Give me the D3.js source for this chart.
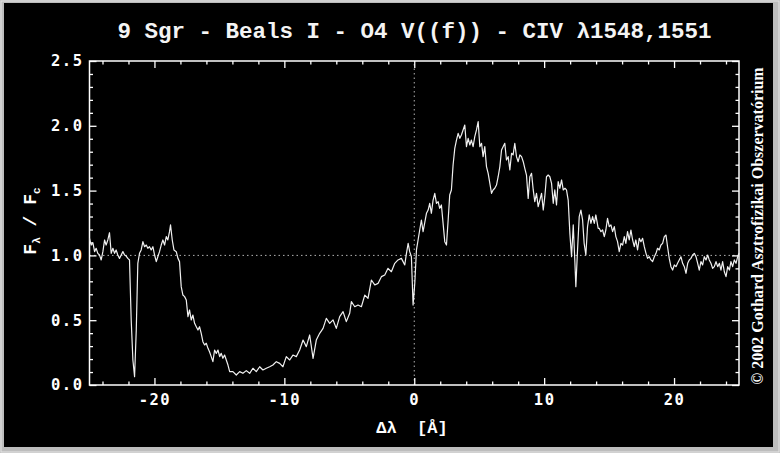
<!DOCTYPE html>
<html><head><meta charset="utf-8">
<script src="https://cdn.jsdelivr.net/npm/d3@7"></script>
<style>html,body{margin:0;padding:0;background:#c0c0c0;overflow:hidden}text{white-space:pre}</style>
</head><body>
<svg id="c" width="780" height="453"></svg>
<script>
const titleText = "9 Sgr - Beals I - O4 V((f)) - CIV \u03bb1548,1551";
const xLabel = "\u0394\u03bb  [\u00c5]";
const copyright = "\u00a9 2002 Gothard Asztrofizikai Obszervat\u00f3rium";
const xDomain = [-25, 25];
const yDomain = [0, 2.5];
const xMajorTicks = [-20, -10, 0, 10, 20];
const xMinorTicks = [-24,-22,-18,-16,-14,-12,-8,-6,-4,-2,2,4,6,8,12,14,16,18,22,24];
const yMajorTicks = [0, 0.5, 1.0, 1.5, 2.0, 2.5];
const yMinorTicks = [0.1,0.2,0.3,0.4,0.6,0.7,0.8,0.9,1.1,1.2,1.3,1.4,1.6,1.7,1.8,1.9,2.1,2.2,2.3,2.4];
const continuumLevel = 1.0;
const restOffset = 0;

// [delta lambda (A), F_lambda / F_c]
const spectrum = [
[-25.00,1.132],[-24.87,1.080],[-24.74,1.098],[-24.61,1.029],[-24.49,1.055],[-24.36,1.016],[-24.23,1.003],[-24.10,0.965],[-23.97,1.029],[-23.84,1.119],
[-23.72,1.080],[-23.59,1.119],[-23.46,1.175],[-23.33,1.016],[-23.20,1.055],[-23.07,1.016],[-22.95,1.042],[-22.82,1.003],[-22.69,0.977],[-22.56,1.003],
[-22.43,1.029],[-22.30,1.003],[-22.18,0.995],[-22.05,0.977],[-21.92,0.965],[-21.79,0.502],[-21.66,0.193],[-21.53,0.064],[-21.40,0.424],[-21.28,0.939],
[-21.15,1.016],[-21.02,1.042],[-20.89,1.106],[-20.76,1.067],[-20.63,1.080],[-20.51,1.055],[-20.38,1.067],[-20.25,1.042],[-20.12,1.067],[-19.99,1.003],
[-19.86,0.952],[-19.74,0.990],[-19.61,1.029],[-19.48,1.080],[-19.35,1.119],[-19.22,1.080],[-19.09,1.145],[-18.97,1.119],[-18.84,1.183],[-18.76,1.235],
[-18.63,1.119],[-18.50,1.042],[-18.32,1.029],[-18.19,0.977],[-18.07,0.952],[-17.94,0.759],[-17.81,0.694],[-17.68,0.682],[-17.55,0.656],[-17.42,0.527],
[-17.30,0.579],[-17.17,0.502],[-17.04,0.540],[-16.91,0.476],[-16.78,0.450],[-16.65,0.424],[-16.53,0.450],[-16.40,0.399],[-16.27,0.334],[-16.14,0.309],
[-16.01,0.322],[-15.88,0.283],[-15.76,0.257],
[-15.63,0.219],[-15.50,0.180],[-15.37,0.270],[-15.24,0.244],[-15.11,0.270],[-14.98,0.219],[-14.86,0.244],[-14.73,0.206],[-14.60,0.231],[-14.47,0.193],
[-14.34,0.154],[-14.21,0.103],[-13.96,0.103],[-13.70,0.077],[-13.44,0.103],[-13.19,0.090],[-12.93,0.111],[-12.67,0.090],[-12.42,0.129],[-12.16,0.103],
[-11.90,0.141],[-11.65,0.116],[-11.39,0.129],[-11.13,0.141],[-10.88,0.154],[-10.62,0.180],[-10.36,0.167],[-10.11,0.141],[-9.85,0.219],
[-9.59,0.193],[-9.34,0.231],[-9.08,0.219],[-8.82,0.270],[-8.56,0.347],[-8.31,0.296],[-8.05,0.386],[-7.79,0.206],[-7.54,0.347],[-7.28,0.399],
[-7.02,0.437],[-6.77,0.514],[-6.51,0.476],[-6.25,0.502],[-6.00,0.437],[-5.74,0.527],[-5.48,0.566],[-5.23,0.489],[-4.97,0.553],[-4.84,0.643],
[-4.58,0.604],[-4.33,0.617],[-4.07,0.604],[-3.81,0.694],[-3.56,0.669],[-3.30,0.810],[-3.04,0.772],[-2.79,0.784],[-2.53,0.836],[-2.27,0.849],
[-2.02,0.900],[-1.76,0.874],[-1.50,0.939],[-1.25,0.965],[-0.99,0.977],[-0.86,0.952],[-0.73,0.926],[-0.60,1.016],[-0.47,1.093],[-0.35,1.029],
[-0.22,0.990],[-0.09,0.617],[0.04,0.784],[0.17,1.042],[0.42,1.196],[0.55,1.273],[0.68,1.183],[0.94,1.325],
[1.07,1.350],[1.19,1.402],[1.32,1.325],[1.45,1.427],[1.58,1.479],[1.71,1.402],[1.84,1.415],[1.96,1.363],[2.09,1.389],[2.22,1.247],
[2.35,1.106],[2.48,1.080],[2.61,1.273],[2.73,1.466],[2.86,1.505],[2.99,1.698],[3.12,1.826],[3.25,1.890],[3.38,1.942],[3.51,1.903],
[3.63,1.929],[3.76,1.968],[3.89,2.006],[4.02,1.839],[4.15,1.903],[4.28,1.852],[4.40,1.890],[4.53,1.839],[4.66,1.916],[4.79,1.968],
[4.92,2.032],[5.05,1.839],[5.18,1.865],[5.30,1.762],[5.43,1.839],[5.56,1.685],[5.69,1.633],[5.82,1.556],[5.95,1.479],[6.07,1.505],
[6.20,1.518],[6.33,1.543],[6.46,1.607],[6.59,1.685],[6.72,1.813],[6.84,1.839],[6.97,1.865],[7.10,1.736],[7.23,1.762],[7.36,1.659],
[7.49,1.788],[7.61,1.775],[7.74,1.865],[7.87,1.762],[8.00,1.723],[8.13,1.775],[8.26,1.762],[8.39,1.723],[8.51,1.672],[8.64,1.620],
[8.77,1.440],[8.90,1.607],[9.03,1.633],[9.16,1.505],[9.28,1.415],[9.41,1.479],[9.54,1.376],[9.67,1.427],[9.80,1.479],[9.93,1.350],
[10.05,1.453],[10.18,1.607],[10.31,1.620],[10.44,1.607],[10.57,1.556],[10.70,1.402],[10.82,1.505],[10.95,1.389],[11.08,1.569],[11.21,1.518],
[11.34,1.582],[11.47,1.505],[11.60,1.518],[11.72,1.505],[11.85,1.427],[11.98,1.170],[12.11,0.990],[12.24,1.235],[12.37,0.939],[12.44,0.759],
[12.57,1.042],[12.70,1.299],[12.83,1.350],[12.96,1.273],[13.08,1.093],[13.21,1.003],[13.34,1.222],[13.47,1.312],[13.60,1.247],[13.73,1.299],
[13.86,1.247],[13.98,1.312],[14.16,1.209],
[14.24,1.209],[14.37,1.183],[14.50,1.196],[14.63,1.145],[14.75,1.196],[14.88,1.286],[15.01,1.222],[15.14,1.235],[15.27,1.183],[15.40,1.222],
[15.52,1.145],[15.65,1.106],[15.78,1.029],[15.91,1.093],[16.04,1.080],[16.17,1.145],[16.29,1.093],[16.42,1.183],[16.55,1.119],[16.68,1.196],
[16.81,1.119],[16.94,1.067],[17.06,1.119],[17.19,1.042],[17.32,1.132],[17.45,1.106],[17.58,1.132],[17.71,1.067],[17.84,1.016],[17.96,0.977],
[18.09,0.990],[18.22,0.965],[18.35,0.952],[18.48,0.990],[18.61,1.016],[18.73,1.055],[18.86,1.042],[18.99,1.080],[19.12,1.093],[19.25,1.145],
[19.38,1.157],[19.50,1.067],[19.63,0.977],[19.76,0.913],[19.89,0.887],[20.02,0.926],[20.15,0.913],[20.27,0.939],[20.40,0.965],[20.53,0.990],
[20.66,0.939],[20.79,0.913],[20.92,0.862],[21.05,0.939],[21.17,0.965],[21.30,0.977],[21.43,1.003],[21.56,1.016],[21.69,0.990],[21.82,0.939],
[21.94,0.887],[22.07,0.952],[22.20,0.926],[22.33,0.990],[22.46,0.965],[22.59,1.003],[22.71,0.965],[22.84,0.939],[22.97,0.900],[23.10,0.913],
[23.23,0.952],[23.36,0.913],[23.49,0.939],[23.61,0.887],[23.74,0.952],[23.87,0.874],[24.00,0.836],[24.13,0.913],[24.26,0.887],[24.38,0.952],
[24.51,0.913],[24.64,0.965],[24.77,0.939],[24.90,0.990],[25.00,1.016]
];

const W = 780, H = 453;
const svg = d3.select("#c");
const plot = {left: 89.5, right: 739, top: 61, bottom: 385};
const x = d3.scaleLinear().domain(xDomain).range([plot.left, plot.right]);
const y = d3.scaleLinear().domain(yDomain).range([plot.bottom, plot.top]);

// window frame
svg.append("rect").attr("x",0).attr("y",0).attr("width",W).attr("height",H).attr("fill","#bdbdbd");
svg.append("rect").attr("x",1).attr("y",1).attr("width",W-2).attr("height",H-2).attr("fill","none").attr("stroke","#e6e6e6").attr("stroke-width",1);
svg.append("rect").attr("x",4).attr("y",3).attr("width",769).attr("height",444).attr("fill","#000");

// title
svg.append("text").attr("x",414.5).attr("y",38).attr("text-anchor","middle")
  .attr("font-family","'Liberation Mono', 'Courier New', monospace").attr("font-weight","bold")
  .attr("font-size",22.5).attr("fill","#f4f4f4").text(titleText);

// dotted reference lines
svg.append("line").attr("x1",x(xDomain[0])).attr("x2",x(xDomain[1]))
  .attr("y1",y(continuumLevel)).attr("y2",y(continuumLevel))
  .attr("stroke","#b0b0b0").attr("stroke-width",1).attr("stroke-dasharray","1.5,3");
svg.append("line").attr("x1",x(restOffset)).attr("x2",x(restOffset))
  .attr("y1",y(yDomain[0])).attr("y2",y(yDomain[1]))
  .attr("stroke","#b0b0b0").attr("stroke-width",1).attr("stroke-dasharray","1.5,3");

// axes (ticks inward on all four sides)
const tickFont = "'DejaVu Sans Mono', monospace";
function styleAxis(g){
  g.select(".domain").remove();
  g.selectAll(".tick line").attr("stroke","#fff").attr("stroke-width",1.3);
  g.selectAll(".tick text").attr("fill","#fff").attr("font-family",tickFont)
    .attr("font-size",15.5).attr("font-weight","bold").attr("letter-spacing","1.5px");
}
const fmtY = d3.format(".1f");
svg.append("g").attr("transform",`translate(0,${plot.bottom})`)
  .call(d3.axisBottom(x).tickValues(xMajorTicks).tickSize(-7).tickPadding(9).tickFormat(d=>d3.format("d")(d).replace("\u2212","-")))
  .call(styleAxis);
svg.append("g").attr("transform",`translate(0,${plot.bottom})`)
  .call(d3.axisBottom(x).tickValues(xMinorTicks).tickSize(-3.5).tickFormat(""))
  .call(styleAxis);
svg.append("g").attr("transform",`translate(0,${plot.top})`)
  .call(d3.axisTop(x).tickValues(xMajorTicks).tickSize(-7).tickFormat(""))
  .call(styleAxis);
svg.append("g").attr("transform",`translate(0,${plot.top})`)
  .call(d3.axisTop(x).tickValues(xMinorTicks).tickSize(-3.5).tickFormat(""))
  .call(styleAxis);
svg.append("g").attr("transform",`translate(${plot.left},0)`)
  .call(d3.axisLeft(y).tickValues(yMajorTicks).tickSize(-7).tickPadding(6).tickFormat(fmtY))
  .call(styleAxis);
svg.append("g").attr("transform",`translate(${plot.left},0)`)
  .call(d3.axisLeft(y).tickValues(yMinorTicks).tickSize(-3.5).tickFormat(""))
  .call(styleAxis);
svg.append("g").attr("transform",`translate(${plot.right},0)`)
  .call(d3.axisRight(y).tickValues(yMajorTicks).tickSize(-7).tickFormat(""))
  .call(styleAxis);
svg.append("g").attr("transform",`translate(${plot.right},0)`)
  .call(d3.axisRight(y).tickValues(yMinorTicks).tickSize(-3.5).tickFormat(""))
  .call(styleAxis);

// frame
svg.append("rect").attr("x",plot.left).attr("y",plot.top)
  .attr("width",plot.right-plot.left).attr("height",plot.bottom-plot.top)
  .attr("fill","none").attr("stroke","#fff").attr("stroke-width",1.5);

// spectrum
const line = d3.line().x(d=>x(d[0])).y(d=>y(d[1]));
svg.append("path").datum(spectrum).attr("d",line)
  .attr("fill","none").attr("stroke","#f0f0f0").attr("stroke-width",1.2).attr("stroke-linejoin","round");

// x axis label
svg.append("text").attr("x",412).attr("y",433).attr("text-anchor","middle")
  .attr("font-family","'Liberation Mono', 'Courier New', monospace").attr("font-weight","bold")
  .attr("font-size",17).attr("fill","#fff").text(xLabel);

// y axis label
const yl = svg.append("text").attr("transform","translate(36,221) rotate(-90)").attr("text-anchor","middle")
  .attr("font-family","'Liberation Mono', 'Courier New', monospace").attr("font-weight","bold")
  .attr("font-size",18).attr("fill","#fff");
yl.append("tspan").text("F");
yl.append("tspan").attr("font-size",11).attr("dy",4).text("\u03bb");
yl.append("tspan").attr("dy",-4).text(" / ");
yl.append("tspan").text("F");
yl.append("tspan").attr("font-size",11).attr("dy",4).text("c");

// copyright
svg.append("text").attr("transform","translate(763,226) rotate(-90)").attr("text-anchor","middle")
  .attr("font-family","'Liberation Serif', 'Times New Roman', serif").attr("font-weight","bold")
  .attr("font-size",16).attr("fill","#fff").text(copyright);
</script>
</body></html>
